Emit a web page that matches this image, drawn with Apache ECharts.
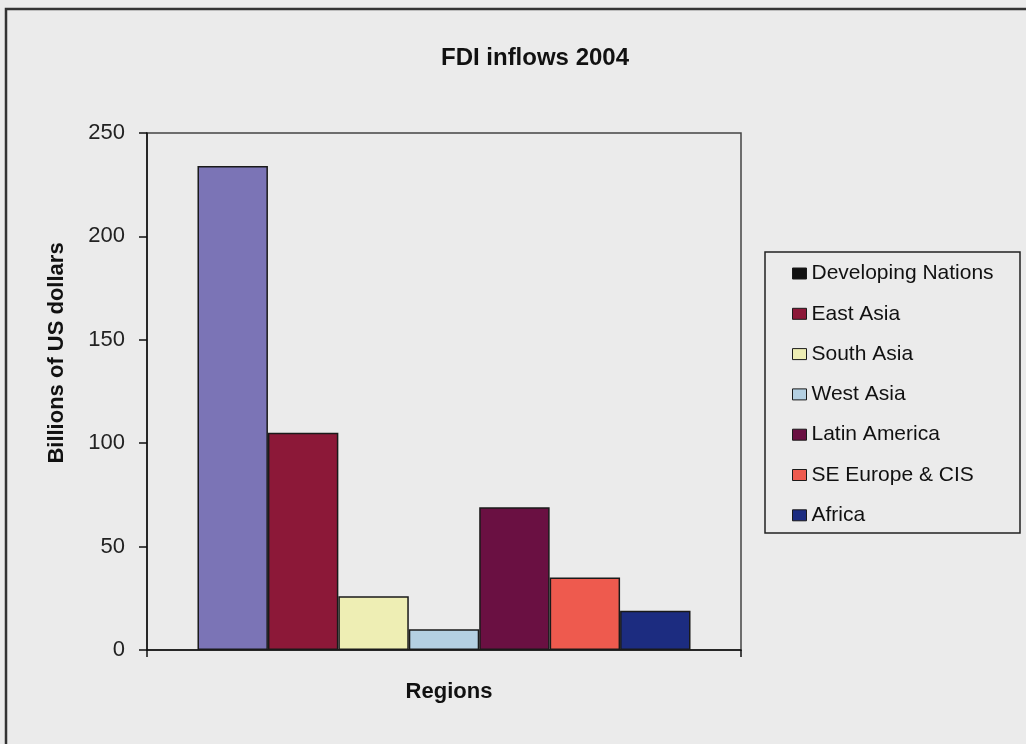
<!DOCTYPE html>
<html>
<head>
<meta charset="utf-8">
<script src="https://cdn.jsdelivr.net/npm/echarts@6/dist/echarts.min.js"></script>
<style>
html,body{margin:0;padding:0;background:#ebebeb;}
#chart{width:1026px;height:744px;}
</style>
</head>
<body>
<div id="chart"></div>
<script>
const titleText = 'FDI inflows 2004';
const categories = ['Regions'];
const seriesNames = ['Developing Nations','East Asia','South Asia','West Asia','Latin America','SE Europe & CIS','Africa'];
const seriesValues = [234, 105, 26, 10, 69, 35, 19];
const barColors = ['#7b74b6','#8c1838','#eeeeb4','#b4d0e2','#6a1042','#ee5a4e','#1c2c80'];
const legendColors = ['#111111','#8c1838','#eeeeb4','#b4d0e2','#6a1042','#ee5a4e','#1c2c80'];
const yTicks = [0, 50, 100, 150, 200, 250];
const yAxisTitle = 'Billions of US dollars';
const xAxisTitle = 'Regions';

const chart = echarts.init(document.getElementById('chart'));
const font = '"Liberation Sans", Arial, sans-serif';

const series = seriesNames.map((n, i) => ({
  name: n,
  type: 'bar',
  data: [seriesValues[i]],
  barGap: '0%',
  barCategoryGap: '17%',
  itemStyle: { color: barColors[i], borderColor: '#1a1a1a', borderWidth: 1.5 }
}));

chart.setOption({
  backgroundColor: '#ebebeb',
  animation: false,
  title: {
    text: titleText, left: 530, top: 41, textAlign: 'center',
    textStyle: { fontFamily: font, fontWeight: 'bold', fontSize: 24, color: '#111' }
  },
  grid: {
    left: 147, top: 133, right: 285, bottom: 94,
    show: true, borderColor: '#444', borderWidth: 1.5, backgroundColor: 'transparent'
  },
  legend: {
    orient: 'vertical', left: 792, top: 263, padding: 0,
    itemWidth: 14, itemHeight: 11, itemGap: 19.3,
    textStyle: { fontFamily: font, fontSize: 21, color: '#111', lineHeight: 20 },
    data: seriesNames.map((n, i) => ({
      name: n, icon: 'rect',
      itemStyle: { color: legendColors[i], borderColor: '#1a1a1a', borderWidth: 1 }
    }))
  },
  xAxis: {
    type: 'category', data: categories,
    axisLine: { lineStyle: { color: '#111', width: 1.5 } },
    axisTick: { show: true, length: 7, lineStyle: { color: '#111', width: 1.5 } },
    axisLabel: { show: false },
    splitLine: { show: false }
  },
  yAxis: {
    type: 'value', min: yTicks[0], max: yTicks[yTicks.length - 1], interval: 50,
    axisLine: { show: true, lineStyle: { color: '#111', width: 1.5 } },
    axisTick: { show: true, length: 8, lineStyle: { color: '#111', width: 1.5 } },
    axisLabel: { fontFamily: font, fontSize: 22, color: '#222', margin: 22 },
    splitLine: { show: false }
  },
  graphic: [
    { type: 'rect', shape: { x: 6, y: 9, width: 1060, height: 780 }, style: { fill: 'none', stroke: '#333', lineWidth: 2.5 }, silent: true },
    { type: 'rect', shape: { x: 765, y: 252, width: 255, height: 281 }, style: { fill: 'none', stroke: '#222', lineWidth: 1.5 }, silent: true },
    { type: 'text', x: 57, y: 353, rotation: Math.PI / 2,
      style: { text: yAxisTitle, fontFamily: font, fontWeight: 'bold', fontSize: 22, fill: '#111', textAlign: 'center', textVerticalAlign: 'middle' } },
    { type: 'text', x: 449, y: 692,
      style: { text: xAxisTitle, fontFamily: font, fontWeight: 'bold', fontSize: 22, fill: '#111', textAlign: 'center', textVerticalAlign: 'middle' } }
  ],
  series: series
});
</script>
</body>
</html>
